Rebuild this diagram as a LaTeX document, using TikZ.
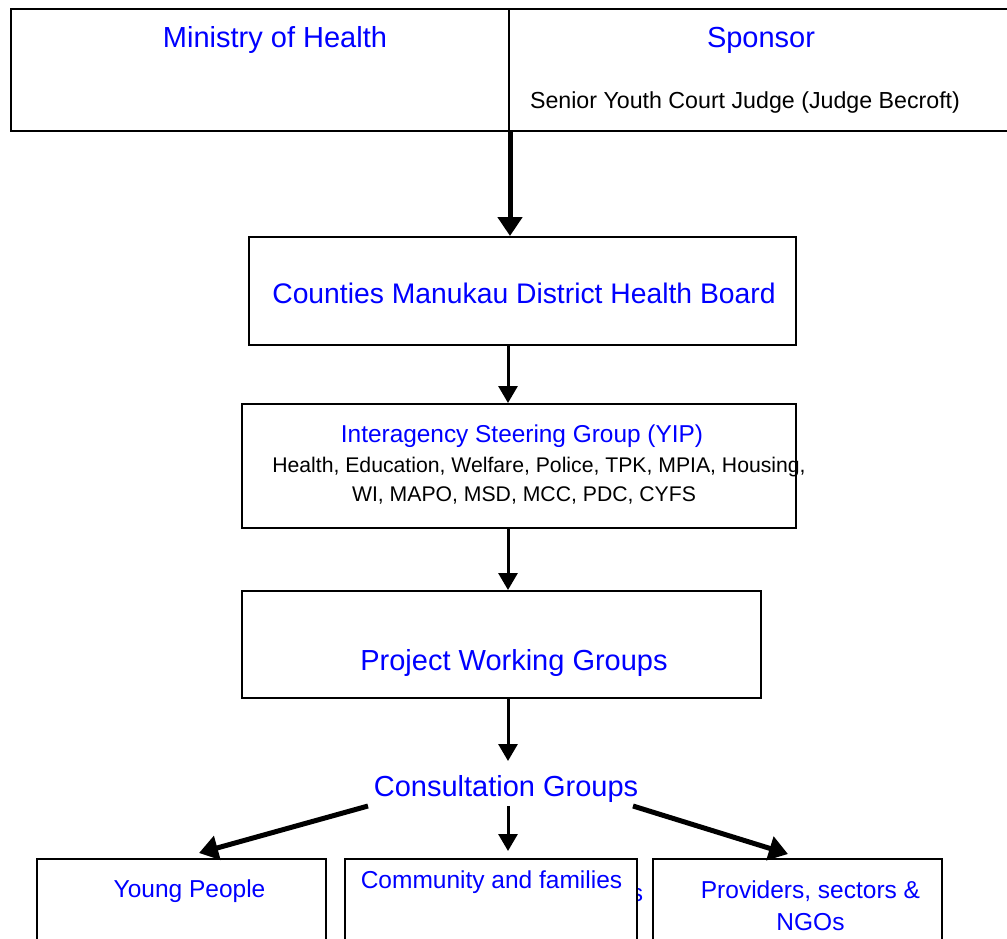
\documentclass[tikz,border=0pt]{standalone}
\usepackage{fontspec}
\setmainfont{Liberation Sans}
\usetikzlibrary{arrows.meta}
\definecolor{tblue}{RGB}{0,0,255}
\tikzset{
  box/.style={draw=black, line width=1.8pt, fill=white, inner sep=0pt, anchor=north west},
  bigtxt/.style={text=tblue, inner sep=0pt, font=\fontsize{29}{34}\selectfont},
  midtxt/.style={text=tblue, inner sep=0pt, font=\fontsize{24.5}{32}\selectfont, align=center},
  smalltxt/.style={text=black, inner sep=0pt, font=\fontsize{21.2}{28}\selectfont},
  thickarr/.style={line width=5pt, -{Triangle[width=24pt,length=19pt]}},
  thinarr/.style={line width=3pt, -{Triangle[width=19pt,length=17pt]}},
}
\begin{document}
\begin{tikzpicture}[x=1pt,y=-1pt]
\clip (0,0) rectangle (1007,938);
\useasboundingbox (0,0) rectangle (1007,938);
% stray glyph behind the middle box
\node[midtxt] (stray) at (637,895) {s};
% boxes
\node[box, minimum width=498pt, minimum height=122pt] (moh) at (10,8) {};
\node[box, minimum width=500pt, minimum height=122pt] (spon) at (508,8) {};
\node[box, minimum width=547pt, minimum height=108pt] (cmdhb) at (248,236) {};
\node[box, minimum width=554pt, minimum height=124pt] (steer) at (241,403) {};
\node[box, minimum width=519pt, minimum height=107pt] (pwg) at (241,590) {};
\node[box, minimum width=289pt, minimum height=110pt] (yp) at (36,858) {};
\node[box, minimum width=292pt, minimum height=110pt] (cf) at (344,858) {};
\node[box, minimum width=289pt, minimum height=110pt] (prov) at (652,858) {};
% texts
\node[bigtxt] (mohT) at (275,40) {Ministry of Health};
\node[bigtxt] (sponT) at (761,40) {Sponsor};
\node[text=black, inner sep=0pt, font=\fontsize{23.2}{28}\selectfont] (judge) at (745,102) {Senior Youth Court Judge (Judge Becroft)};
\node[text=tblue, inner sep=0pt, font=\fontsize{28.3}{34}\selectfont] (cmdhbT) at (524,293) {Counties Manukau District Health Board};
\node[text=tblue, inner sep=0pt, font=\fontsize{24.4}{30}\selectfont] (steerT) at (522,436) {Interagency Steering Group (YIP)};
\node[smalltxt] (steerL1) at (539,467) {Health, Education, Welfare, Police, TPK, MPIA, Housing,};
\node[smalltxt] (steerL2) at (524,495) {WI, MAPO, MSD, MCC, PDC, CYFS};
\node[bigtxt] (pwgT) at (514,663) {Project Working Groups};
\node[bigtxt] (cons) at (506,789) {Consultation Groups};
\node[midtxt] (ypT) at (189.5,891) {Young People};
\node[midtxt] (cfT) at (491.5,882) {Community and families};
\node[midtxt] (provT) at (810.5,906) {Providers, sectors \&\\NGOs};
% connectors
\coordinate (a1) at (510,130);
\draw[thickarr] (a1) -- (a1 |- cmdhb.north);
\coordinate (a2) at (508,344);
\draw[thinarr] (a2) -- (a2 |- steer.north);
\coordinate (a3) at (508,527);
\draw[thinarr] (a3) -- (a3 |- pwg.north);
\coordinate (a4) at (508,697);
\coordinate (e4) at (508,761);
\draw[thinarr] (a4) -- (e4);
\coordinate (c1) at (368,806);
\coordinate (e1) at (199,853);
\draw[thickarr] (c1) -- (e1);
\coordinate (c2) at (508,806);
\coordinate (e2) at (508,851);
\draw[thinarr] (c2) -- (e2);
\coordinate (c3) at (633,806);
\coordinate (e3) at (788,854);
\draw[thickarr] (c3) -- (e3);
\end{tikzpicture}
\end{document}
